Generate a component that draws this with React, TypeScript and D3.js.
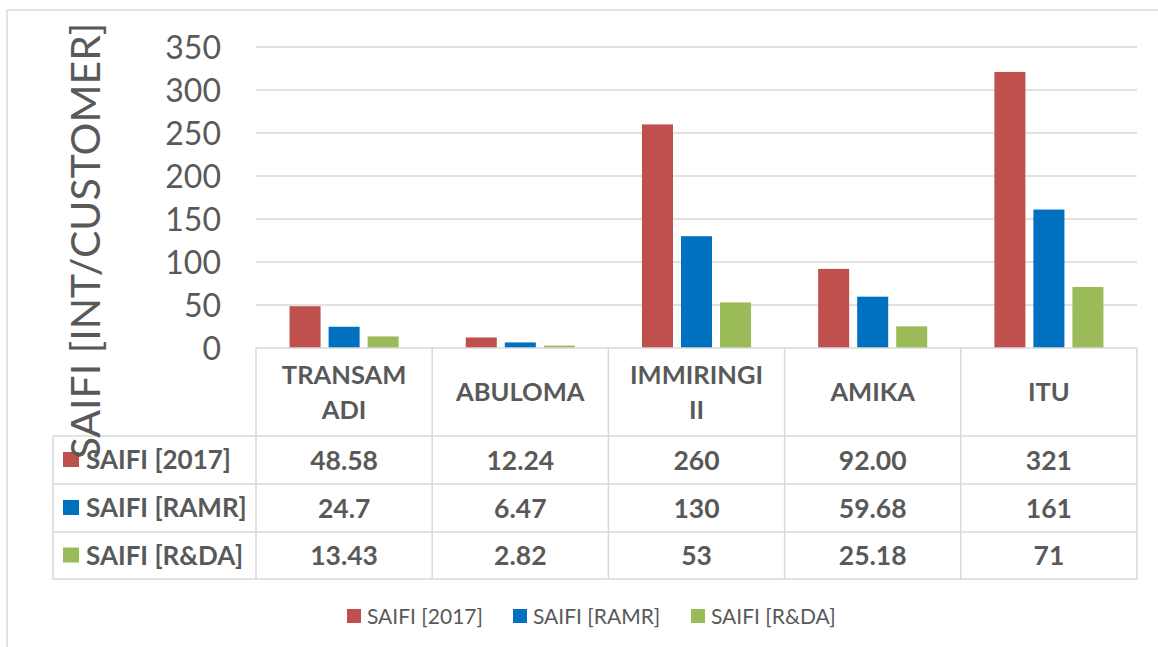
import React from "react";
import * as d3 from "d3";

const categories = ["TRANSAM\nADI", "ABULOMA", "IMMIRINGI\nII", "AMIKA", "ITU"];
const seriesNames = ["SAIFI [2017]", "SAIFI [RAMR]", "SAIFI [R&DA]"];
const seriesColors = ["#C0504D", "#0070C0", "#9BBB59"];
const saifi2017 = [48.58, 12.24, 260, 92.0, 321];
const saifiRAMR = [24.7, 6.47, 130, 59.68, 161];
const saifiRDA = [13.43, 2.82, 53, 25.18, 71];
const labels2017 = ["48.58", "12.24", "260", "92.00", "321"];
const labelsRAMR = ["24.7", "6.47", "130", "59.68", "161"];
const labelsRDA = ["13.43", "2.82", "53", "25.18", "71"];
const yTicks = [0, 50, 100, 150, 200, 250, 300, 350];
const yTitle = "SAIFI [INT/CUSTOMER]";

const seriesValues = [saifi2017, saifiRAMR, saifiRDA];
const seriesLabels = [labels2017, labelsRAMR, labelsRDA];

const W = 1158;
const H = 647;
const FONT = "Lato, 'Open Sans', sans-serif";
const TXT = "#595959";
const GRID = "#D9D9D9";

export default function App() {
  const plotL = 256;
  const plotR = 1137;
  const y = d3.scaleLinear().domain([0, 350]).range([348, 47]);
  const x0 = d3.scaleBand<number>().domain(d3.range(categories.length)).range([plotL, plotR]);
  const x1 = d3
    .scaleBand<number>()
    .domain(d3.range(seriesNames.length))
    .range([0, x0.bandwidth()])
    .paddingInner(0.205)
    .paddingOuter(0.86);

  const tableL = 53;
  const headerTop = y(0);
  const headerBottom = 436;
  const rowEdges = [436, 484, 532, 579];

  const legendKeyX = [347, 513, 691];

  return (
    <svg
      width={W}
      height={H}
      style={{ position: "absolute", left: 0, top: 0, background: "#fff" }}
      fontFamily={FONT}
    >
      <rect x={0} y={0} width={W} height={H} fill="#fff" />
      {/* outer chart border (cropped) */}
      <line x1={7} y1={10} x2={W} y2={10} stroke={GRID} strokeWidth={1.5} />
      <line x1={7} y1={10} x2={7} y2={H} stroke={GRID} strokeWidth={1.5} />

      {/* gridlines */}
      {yTicks.filter((t) => t > 0).map((t) => (
        <line key={t} x1={plotL} x2={plotR} y1={y(t)} y2={y(t)} stroke={GRID} strokeWidth={1.5} />
      ))}

      {/* y tick labels */}
      {yTicks.map((t) => (
        <text key={t} x={221} y={y(t)} dy="0.36em" textAnchor="end" fontSize={32} fill={TXT}>
          {t}
        </text>
      ))}

      {/* bars */}
      {categories.map((c, i) =>
        seriesValues.map((vals, s) => (
          <rect
            key={`${i}-${s}`}
            x={(x0(i) as number) + (x1(s) as number)}
            y={y(vals[i])}
            width={x1.bandwidth()}
            height={y(0) - y(vals[i])}
            fill={seriesColors[s]}
          />
        ))
      )}

      {/* data table grid */}
      <g stroke={GRID} strokeWidth={1.5} fill="none">
        <line x1={plotL} x2={plotR} y1={headerTop} y2={headerTop} />
        {rowEdges.map((ry) => (
          <line key={ry} x1={tableL} x2={plotR} y1={ry} y2={ry} />
        ))}
        <line x1={tableL} x2={tableL} y1={headerBottom} y2={rowEdges[3]} />
        {d3.range(categories.length + 1).map((k) => {
          const xx = k < categories.length ? (x0(k) as number) : plotR;
          return <line key={k} x1={xx} x2={xx} y1={headerTop} y2={rowEdges[3]} />;
        })}
      </g>

      {/* header labels */}
      {categories.map((c, i) => {
        const lines = c.split("\n");
        const cx = (x0(i) as number) + x0.bandwidth() / 2;
        const cy = (headerTop + headerBottom) / 2;
        const lh = 35;
        return (
          <text key={c} textAnchor="middle" fontSize={25.5} fontWeight="bold" fill={TXT}>
            {lines.map((ln, k) => (
              <tspan key={k} x={cx} y={cy + (k - (lines.length - 1) / 2) * lh} dy="0.36em">
                {ln}
              </tspan>
            ))}
          </text>
        );
      })}

      {/* row labels and values */}
      {seriesNames.map((name, s) => {
        const cy = (rowEdges[s] + rowEdges[s + 1]) / 2;
        return (
          <g key={name}>
            <rect x={63} y={cy - 8} width={16} height={15} fill={seriesColors[s]} />
            <text x={86} y={cy} dy="0.36em" fontSize={26} fontWeight="bold" fill={TXT}>
              {name}
            </text>
            {seriesLabels[s].map((lab, i) => (
              <text
                key={i}
                x={(x0(i) as number) + x0.bandwidth() / 2}
                y={cy}
                dy="0.36em"
                textAnchor="middle"
                fontSize={26.5}
                fontWeight="bold"
                fill={TXT}
              >
                {lab}
              </text>
            ))}
          </g>
        );
      })}

      {/* y axis title */}
      <text
        transform={`translate(85,241) rotate(-90)`}
        textAnchor="middle"
        dy="0.36em"
        fontSize={41}
        fill={TXT}
      >
        {yTitle}
      </text>

      {/* legend */}
      {seriesNames.map((name, s) => (
        <g key={name}>
          <rect x={legendKeyX[s]} y={609} width={14} height={14} fill={seriesColors[s]} />
          <text x={legendKeyX[s] + 20} y={616} dy="0.36em" fontSize={21} fill={TXT}>
            {name}
          </text>
        </g>
      ))}
    </svg>
  );
}
